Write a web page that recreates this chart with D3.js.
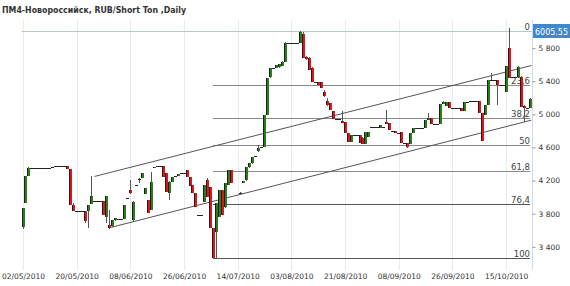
<!DOCTYPE html>
<html>
<head>
<meta charset="utf-8">
<script src="https://cdn.jsdelivr.net/npm/d3@7"></script>
<style>
  body { margin: 0; background: #fff; }
  svg { display: block; font-family: "DejaVu Sans", Verdana, sans-serif; }
</style>
</head>
<body>
<div id="chart"></div>
<script>
let svgWidth = 570;
let svgHeight = 286;

// daily bars [open, high, low, close], null = no trade that day
let bars = [
  [3640, 3870, 3620, 3870], [3930, 4255, 3930, 4255], [4250, 4360, 4250, 4350],
  [4350, 4350, 4350, 4350], [4350, 4350, 4350, 4350], [4350, 4350, 4350, 4350],
  [4350, 4350, 4350, 4350], [4350, 4350, 4350, 4350], [4350, 4350, 4350, 4350],
  [4350, 4350, 4350, 4350], [4360, 4360, 4360, 4360], [4375, 4375, 4375, 4375],
  [4380, 4380, 4380, 4380], [4380, 4380, 4380, 4380], [4380, 4380, 4380, 4380],
  [4380, 4380, 4340, 4340], [4340, 4340, 3900, 3900], [3900, 3930, 3830, 3830],
  [3830, 3830, 3830, 3830], [3830, 3830, 3830, 3830], [3830, 3830, 3830, 3830],
  [3830, 3830, 3690, 3710], [3830, 3910, 3630, 3905], [3920, 4250, 3920, 4010],
  [3950, 3950, 3950, 3950], [3950, 3950, 3950, 3950], [3950, 3950, 3950, 3950],
  [3950, 3950, 3780, 3785], [3760, 4013, 3690, 4010], [3660, 3840, 3620, 3625],
  [3650, 3720, 3640, 3723], [3720, 3750, 3715, 3748], [3735, 3735, 3735, 3735],
  [3735, 3735, 3735, 3735], [3735, 3905, 3735, 3905], [3985, 3985, 3985, 3985],
  [4090, 4210, 4040, 4055], [3720, 3950, 3700, 3945], [4150, 4150, 4150, 4150],
  [4220, 4230, 4170, 4220], [4230, 4290, 4230, 4290], [4040, 4110, 4040, 4110],
  [3965, 3970, 3808, 3808], [3844, 4300, 3844, 4182], [4350, 4365, 4350, 4363],
  [4375, 4375, 4375, 4375], [4375, 4375, 4375, 4375], [4376, 4376, 4243, 4243],
  [4290, 4290, 4060, 4060], [4050, 4190, 3965, 4185], [4185, 4245, 4185, 4245],
  [4255, 4255, 4255, 4255], [4250, 4280, 4250, 4280], [4290, 4290, 4290, 4290],
  [4290, 4290, 4290, 4290], [4330, 4330, 4245, 4245], [4245, 4245, 4135, 4135],
  [4145, 4145, 4055, 4055], [4055, 4055, 3885, 3885], [3780, 3780, 3780, 3780],
  [3780, 3780, 3780, 3780], [3945, 4145, 3945, 4145], [4205, 4225, 4005, 4005],
  [4125, 4125, 3625, 3625], [3625, 3630, 3265, 3270], [3580, 3930, 3265, 3930],
  [3760, 4090, 3760, 4086], [4086, 4086, 3785, 3785], [3880, 4170, 3870, 4170],
  [4150, 4330, 4150, 4330], [4330, 4330, 4170, 4170], null,
  null, [4045, 4060, 4040, 4050], [4170, 4200, 4165, 4200],
  [4205, 4360, 4200, 4360], [4360, 4410, 4350, 4410], [4410, 4490, 4400, 4485],
  [4495, 4495, 4495, 4495], [4555, 4630, 4550, 4595], [4600, 4610, 4595, 4605],
  [4600, 4990, 4600, 4990], [4990, 5440, 4990, 5440], [5450, 5560, 5440, 5560],
  [5560, 5560, 5560, 5560], [5560, 5600, 5560, 5596], [5570, 5610, 5560, 5608],
  [5580, 5640, 5580, 5632], [5632, 5870, 5630, 5861], [5861, 5861, 5861, 5861],
  [5861, 5861, 5861, 5861], [5861, 5861, 5861, 5861], [5861, 5861, 5861, 5861],
  [5861, 6005.55, 5861, 5995], [5970, 5995, 5680, 5680], [5690, 5700, 5660, 5670],
  [5680, 5690, 5530, 5535], [5560, 5570, 5390, 5390], [5390, 5390, 5390, 5390],
  [5390, 5390, 5350, 5350], [5390, 5390, 5320, 5320], [5270, 5290, 5210, 5220],
  [5160, 5200, 5100, 5110], [5140, 5140, 5050, 5050], [5040, 5040, 4940, 4945],
  [4945, 4945, 4945, 4945], [4945, 4945, 4945, 4945], [4920, 5040, 4895, 4900],
  [4910, 4910, 4775, 4780], [4770, 4770, 4665, 4665], [4665, 4750, 4665, 4750],
  [4750, 4750, 4750, 4750], [4750, 4750, 4750, 4750], [4750, 4750, 4650, 4655],
  [4720, 4725, 4640, 4640], [4640, 4790, 4640, 4786], [4730, 4790, 4730, 4790],
  [4850, 4850, 4850, 4850], [4850, 4850, 4850, 4850], [4850, 4850, 4850, 4850],
  [4840, 4870, 4840, 4870], [4850, 4850, 4850, 4850], [4910, 5050, 4880, 4885],
  [4900, 4900, 4810, 4815], [4800, 4800, 4800, 4800], [4800, 4800, 4775, 4775],
  [4775, 4775, 4775, 4775], [4790, 4790, 4650, 4650], [4650, 4650, 4650, 4650],
  [4650, 4650, 4595, 4605], [4640, 4780, 4640, 4775], [4775, 4835, 4775, 4835],
  [4835, 4835, 4835, 4835], [4835, 4835, 4835, 4835], [4835, 4835, 4835, 4835],
  [4835, 4930, 4835, 4930], [4930, 5020, 4930, 4955], [4955, 4955, 4885, 4885],
  [4885, 4885, 4885, 4885], [4885, 4885, 4885, 4885], [4885, 5130, 4885, 5125],
  [5125, 5160, 5120, 5150], [5100, 5150, 5100, 5145], [5145, 5145, 5080, 5080],
  [5080, 5080, 5080, 5080], [5080, 5080, 5080, 5080], [5080, 5080, 5080, 5080],
  [5076, 5076, 5040, 5040], [5040, 5150, 5040, 5150], [5155, 5155, 5155, 5155],
  [5160, 5160, 5160, 5160], [5165, 5165, 5165, 5165], [5165, 5165, 5165, 5165],
  [5165, 5165, 5016, 5016], [5016, 5016, 4680, 4680], [4990, 5110, 4990, 5110],
  [5110, 5414, 5110, 5414], [5414, 5500, 5414, 5414], [5414, 5414, 5414, 5414],
  [5414, 5414, 5110, 5350], [5350, 5350, 5350, 5350], [5350, 5350, 5350, 5350],
  [5275, 5580, 5270, 5580], [5800, 6040, 5440, 5440], [5445, 5445, 5445, 5445],
  [5450, 5450, 5450, 5450], [5450, 5580, 5450, 5570], [5450, 5460, 5090, 5090],
  [5100, 5110, 4910, 5076], [5076, 5076, 5076, 5076], [5076, 5200, 5076, 5190]
];

// x axis: bar index of each labelled date
let tickIndex = [0, 18, 36, 54, 72, 90, 108, 126, 144, 162];
let tickLabels = ['02/05/2010', '20/05/2010', '08/06/2010', '26/06/2010', '14/07/2010',
  '03/08/2010', '21/08/2010', '08/09/2010', '26/09/2010', '15/10/2010'];

// price axis
let priceTicks = [3400, 3800, 4200, 4600, 5000, 5400, 5800];
let lastPrice = 6005.55;

// fibonacci retracement
let fibLevels = [0, 23.6, 38.2, 50, 61.8, 76.4, 100];
let fibHigh = 6005.55;
let fibLow = 3265;
let fibStartIndex = 64;

// trend channel, [bar index, price]
let channelUpper = [[24, 4250], [170.5, 5590]];
let channelLower = [[29, 3630], [170.5, 4930]];

let plot = { left: 21.5, right: 532, top: 20, bottom: 270 };

let x = d3.scaleLinear().domain([0, 170]).range([23, 530]);
let y = d3.scaleLinear().domain([3400, 5800]).range([246.8, 48.1]);

let svg = d3.select('#chart').append('svg')
  .attr('width', svgWidth)
  .attr('height', svgHeight);

// title
svg.append('text')
  .attr('x', 2)
  .attr('y', 13)
  .attr('font-size', '9px')
  .attr('font-weight', 'bold')
  .attr('fill', '#333')
  .attr('textLength', 184)
  .attr('lengthAdjust', 'spacingAndGlyphs')
  .text('ПМ4-Новороссийск,  RUB/Short Ton ,Daily');

// vertical grid
svg.append('g')
  .selectAll('line')
  .data(tickIndex)
  .enter()
  .append('line')
  .attr('x1', d => Math.round(x(d)) + 0.5)
  .attr('x2', d => Math.round(x(d)) + 0.5)
  .attr('y1', plot.top)
  .attr('y2', plot.bottom)
  .attr('stroke', '#e4edf6');

// right border of plot
svg.append('line')
  .attr('x1', plot.right + 0.5).attr('x2', plot.right + 0.5)
  .attr('y1', plot.top).attr('y2', plot.bottom)
  .attr('stroke', '#cddcec');

// x axis labels
let xAxis = d3.axisBottom(x)
  .tickValues(tickIndex)
  .tickFormat((d, i) => tickLabels[i])
  .tickSize(0)
  .tickPadding(0);

let xAxisG = svg.append('g')
  .attr('transform', `translate(0, ${plot.bottom + 4})`)
  .call(xAxis);
xAxisG.select('.domain').remove();
xAxisG.selectAll('text')
  .attr('font-size', '7.5px')
  .attr('font-family', '"DejaVu Sans", Verdana, sans-serif')
  .attr('fill', '#333');

// price axis on the right
let yAxis = d3.axisRight(y)
  .tickValues(priceTicks)
  .tickFormat(d => d3.format(',')(d).replace(',', ' '))
  .tickSize(3)
  .tickPadding(3);

let yAxisG = svg.append('g')
  .attr('transform', `translate(${plot.right + 0.5}, 0)`)
  .call(yAxis);
yAxisG.select('.domain').remove();
yAxisG.selectAll('line').attr('stroke', '#999');
yAxisG.selectAll('text')
  .attr('font-size', '7.5px')
  .attr('font-family', '"DejaVu Sans", Verdana, sans-serif')
  .attr('fill', '#333');

// last price line + box
let lpY = Math.round(y(lastPrice)) + 0.5;
svg.append('line')
  .attr('x1', plot.left).attr('x2', plot.right)
  .attr('y1', lpY).attr('y2', lpY)
  .attr('stroke', '#a9cbea');

// fibonacci levels
let fibG = svg.append('g');
fibLevels.forEach(function(lv) {
  let price = fibHigh - (fibHigh - fibLow) * lv / 100;
  let ly = Math.round(y(price)) + 0.5;
  if (lv > 0) {
    fibG.append('line')
      .attr('x1', Math.round(x(fibStartIndex)) - 1)
      .attr('x2', plot.right - 2)
      .attr('y1', ly).attr('y2', ly)
      .attr('stroke', lv > 70 ? '#555' : '#8a8a8a');
  }
  fibG.append('text')
    .attr('x', 530)
    .attr('y', ly - 2)
    .attr('text-anchor', 'end')
    .attr('font-size', '8.5px')
    .attr('fill', '#444')
    .text(String(lv).replace('.', ','));
});

// channel lines
let line = d3.line().x(d => x(d[0])).y(d => y(d[1]));
[channelUpper, channelLower].forEach(function(ch) {
  svg.append('path')
    .attr('d', line(ch))
    .attr('fill', 'none')
    .attr('stroke', '#555')
    .attr('stroke-width', 1);
});

// candles
let candleG = svg.append('g');
bars.forEach(function(b, i) {
  if (!b) return;
  let [o, h, l, c] = b;
  let x0 = Math.round(x(i) - 1.5);
  let yo = y(o), yc = y(c), yh = y(h), yl = y(l);
  let top = Math.round(Math.min(yo, yc));
  let bot = Math.round(Math.max(yo, yc));

  // wick
  if (Math.round(yl) - Math.round(yh) > 0) {
    candleG.append('line')
      .attr('x1', x0 + 1.5).attr('x2', x0 + 1.5)
      .attr('y1', Math.round(yh)).attr('y2', Math.round(yl))
      .attr('stroke', '#555');
  }

  if (bot - top < 1) {
    candleG.append('line')
      .attr('x1', x0).attr('x2', x0 + 3)
      .attr('y1', top + 0.5).attr('y2', top + 0.5)
      .attr('stroke', '#222');
    return;
  }
  let up = c >= o;
  candleG.append('rect')
    .attr('x', x0)
    .attr('y', top)
    .attr('width', 3)
    .attr('height', bot - top)
    .attr('fill', up ? '#2b7d1c' : '#e3131b');
  candleG.append('line')
    .attr('x1', x0 + 0.5).attr('x2', x0 + 0.5)
    .attr('y1', top).attr('y2', bot)
    .attr('stroke', '#1d1d1d');
});

// last price box
svg.append('rect')
  .attr('x', plot.right + 1)
  .attr('y', lpY - 7.5)
  .attr('width', 37)
  .attr('height', 14)
  .attr('fill', '#3f87cf');
svg.append('text')
  .attr('x', plot.right + 19.5)
  .attr('y', lpY + 3)
  .attr('text-anchor', 'middle')
  .attr('font-size', '8px')
  .attr('fill', '#fff')
  .text(lastPrice.toFixed(2));
</script>
</body>
</html>
